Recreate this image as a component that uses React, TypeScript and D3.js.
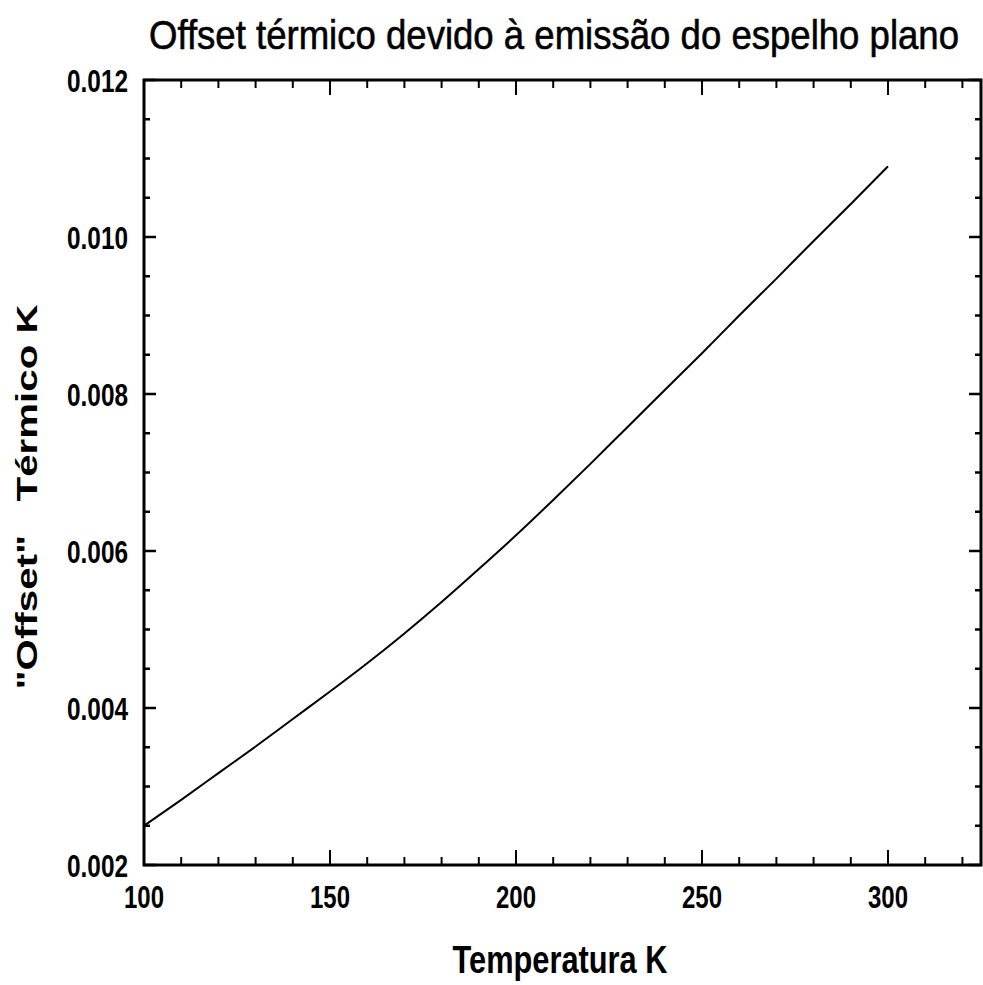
import React from "react";
import * as d3 from "d3";

const temperatures = [100, 110, 120, 130, 140, 150, 160, 170, 180, 190, 200, 210, 220, 230, 240, 250, 260, 270, 280, 290, 300];
const offsets = [0.0025, 0.00283, 0.00317, 0.00351, 0.00386, 0.00421, 0.00457, 0.00495, 0.00535, 0.00577, 0.0062, 0.00665, 0.00711, 0.00758, 0.00805, 0.00852, 0.009, 0.00947, 0.00995, 0.01042, 0.0109];

const xMajorTicks = [100, 150, 200, 250, 300];
const xMinorTicks = d3.range(100, 326, 10);
const yMajorTicks = [0.002, 0.004, 0.006, 0.008, 0.01, 0.012];
const yMinorTicks = d3.range(0, 21).map((i) => 0.002 + i * 0.0005);

const titleText = "Offset térmico devido à emissão do espelho plano";
const xAxisTitle = "Temperatura K";
const yAxisTitle = "\"Offset\"   Térmico K";

const W = 983;
const H = 985;
const left = 144;
const right = 981;
const top = 80;
const bottom = 865;

const sans = "'Liberation Sans', Arial, 'DejaVu Sans', sans-serif";

export default function App() {
  const x = d3.scaleLinear().domain([100, 325]).range([left, right]);
  const y = d3.scaleLinear().domain([0.002, 0.012]).range([bottom, top]);
  const data = temperatures.map((t, i) => [t, offsets[i]] as [number, number]);
  const line = d3
    .line<[number, number]>()
    .x((d) => x(d[0]))
    .y((d) => y(d[1]))
    .curve(d3.curveMonotoneX);

  const isMajorX = (v: number) => Math.abs(v % 50) < 1e-6;
  const isMajorY = (v: number) => Math.round(v * 1e4) % 20 === 0;

  return (
    <svg width={W} height={H} style={{ position: "absolute", left: 0, top: 0, background: "#fff" }}>
      <rect x={0} y={0} width={W} height={H} fill="#fff" />
      <text
        transform="translate(554,49) scale(1,1.2)"
        textAnchor="middle"
        fontFamily={sans}
        fontSize={34}
        fontWeight="normal"
        textLength={810}
        lengthAdjust="spacingAndGlyphs"
        fill="#000"
        stroke="#000"
        strokeWidth={0.5}
      >
        {titleText}
      </text>

      {xMinorTicks.map((v) => {
        const len = isMajorX(v) ? 15 : 8;
        return (
          <g key={"xt" + v}>
            <line x1={x(v)} x2={x(v)} y1={bottom} y2={bottom - len} stroke="#000" strokeWidth={2} />
            <line x1={x(v)} x2={x(v)} y1={top} y2={top + len} stroke="#000" strokeWidth={2} />
          </g>
        );
      })}
      {yMinorTicks.map((v) => {
        const len = isMajorY(v) ? 12 : 6;
        return (
          <g key={"yt" + v}>
            <line x1={left} x2={left + len} y1={y(v)} y2={y(v)} stroke="#000" strokeWidth={2.5} />
            <line x1={right} x2={right - len} y1={y(v)} y2={y(v)} stroke="#000" strokeWidth={2.5} />
          </g>
        );
      })}

      <rect x={left} y={top} width={right - left} height={bottom - top} fill="none" stroke="#000" strokeWidth={3} />

      <path d={line(data) || ""} fill="none" stroke="#000" strokeWidth={2} />

      {xMajorTicks.map((v) => (
        <text
          key={"xl" + v}
          x={x(v)}
          y={908}
          textAnchor="middle"
          fontFamily={sans}
          fontWeight="bold"
          fontSize={32}
          textLength={40}
          lengthAdjust="spacingAndGlyphs"
          fill="#000"
        >
          {v}
        </text>
      ))}
      {yMajorTicks.map((v) => (
        <text
          key={"yl" + v}
          x={128}
          y={y(v) + 11.5}
          textAnchor="end"
          fontFamily={sans}
          fontWeight="bold"
          fontSize={32}
          textLength={61}
          lengthAdjust="spacingAndGlyphs"
          fill="#000"
        >
          {d3.format(".3f")(v)}
        </text>
      ))}

      <text
        x={560}
        y={973}
        textAnchor="middle"
        fontFamily={sans}
        fontWeight="bold"
        fontSize={39}
        textLength={215}
        lengthAdjust="spacingAndGlyphs"
        fill="#000"
      >
        {xAxisTitle}
      </text>

      <text
        transform="translate(37,497) rotate(-90)"
        textAnchor="middle"
        fontFamily={sans}
        fontWeight="bold"
        fontSize={30}
        textLength={385}
        lengthAdjust="spacingAndGlyphs"
        fill="#000"
        style={{ whiteSpace: "pre" }}
        xmlSpace="preserve"
      >
        {yAxisTitle}
      </text>
    </svg>
  );
}
